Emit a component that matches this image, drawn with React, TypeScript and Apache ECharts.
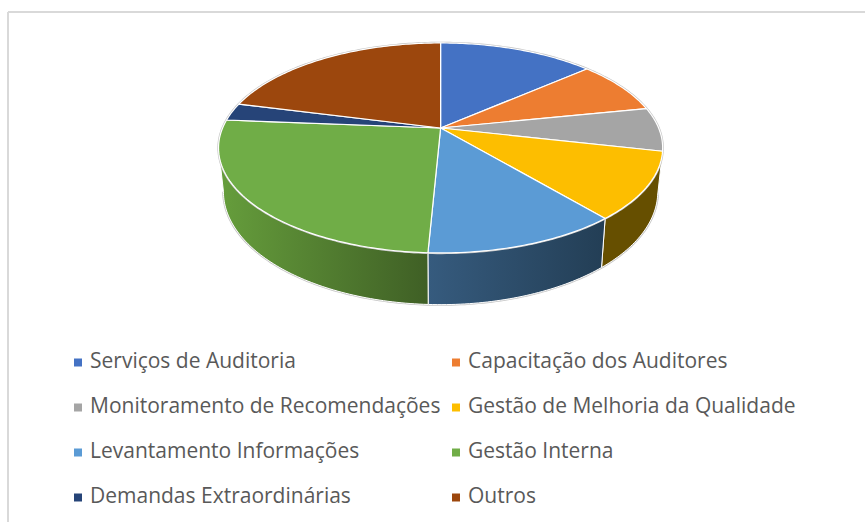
import React, { useEffect, useRef } from "react";
import * as echarts from "echarts";

const categories = [
  "Serviços de Auditoria",
  "Capacitação dos Auditores",
  "Monitoramento de Recomendações",
  "Gestão de Melhoria da Qualidade",
  "Levantamento Informações",
  "Gestão Interna",
  "Demandas Extraordinárias",
  "Outros",
];
const values = [13.6, 8.2, 6.7, 10.3, 11.9, 25.5, 2.7, 21.0];
const palette = ["#4472C4", "#ED7D31", "#A5A5A5", "#FDBE00", "#5B9BD5", "#70AD47", "#264478", "#9C470D"];
const sideLeft = ["#29447a", "#8e4b1d", "#636363", "#664F00", "#365B7E", "#669E3C", "#16294a", "#5e2b08"];
const sideRight = ["#29447a", "#8e4b1d", "#636363", "#664F00", "#233E55", "#3F5F25", "#16294a", "#5e2b08"];

const legendCols = [74, 452];
const legendRows = [349, 394, 439, 484];

const total = values.reduce((a, b) => a + b, 0);
const rad = Math.PI / 180;
const CX = 440.6, CY = 128, R = 218, RY = 101.2, K = 0.19;
const S = 0.978, SY = 1.076, Y0 = 170.2;
const VIS_START = 101, VIS_END = 259;

function topPoint(deg: number): [number, number] {
  const u = Math.sin(deg * rad), v = -Math.cos(deg * rad), w = 1 - K * v;
  return [CX + (R * u) / w, CY + (RY * v) / w];
}
function bottomPoint(deg: number): [number, number] {
  const p = topPoint(deg);
  return [CX + S * (p[0] - CX), Y0 + SY * (p[1] - CY)];
}
function arc(fn: (d: number) => [number, number], a: number, b: number) {
  const n = Math.max(2, Math.ceil(Math.abs(b - a)));
  const pts: [number, number][] = [];
  for (let i = 0; i <= n; i++) pts.push(fn(a + ((b - a) * i) / n));
  return pts;
}

function makeRender(index: number) {
  return (_params: any, api: any) => {
    const before = values.slice(0, index).reduce((a, b) => a + b, 0);
    const a0 = (before / total) * 360;
    const a1 = a0 + (api.value(0) / total) * 360;
    const children: any[] = [];
    const s0 = Math.max(a0, VIS_START), s1 = Math.min(a1, VIS_END);
    if (s1 > s0) {
      const outer = arc(bottomPoint, s0, s1);
      const pts = [...arc(topPoint, s0, s1), ...outer.slice().reverse()];
      children.push({
        type: "polyline",
        shape: { points: outer },
        style: { fill: "none", stroke: "#c4c4c4", lineWidth: 2.4 },
      });
      children.push({
        type: "polygon",
        shape: { points: pts },
        style: {
          fill: {
            type: "linear", x: 0, y: 0, x2: 1, y2: 0,
            colorStops: [
              { offset: 0, color: sideLeft[index] },
              { offset: 1, color: sideRight[index] },
            ],
          },
          stroke: "#ffffff",
          lineWidth: 1,
        },
      });
    }
    const rim = arc(topPoint, a0, a1);
    children.push({
      type: "polyline",
      shape: { points: rim },
      style: { fill: "none", stroke: "#c4c4c4", lineWidth: 2.4 },
    });
    children.push({
      type: "polygon",
      shape: { points: [[CX, CY], ...rim] },
      style: { fill: palette[index], stroke: "#ffffff", lineWidth: 1.2, lineJoin: "round" },
    });
    return { type: "group", children };
  };
}

export default function App() {
  const ref = useRef<HTMLDivElement>(null);
  useEffect(() => {
    const chart = echarts.init(ref.current!, undefined, { renderer: "svg" });
    chart.setOption({
      animation: false,
      color: palette,
      backgroundColor: "#ffffff",
      graphic: [
        { type: "line", shape: { x1: 8, y1: 12, x2: 865, y2: 12 }, style: { stroke: "#d9d9d9", lineWidth: 2 } },
        { type: "line", shape: { x1: 8, y1: 12, x2: 8, y2: 522 }, style: { stroke: "#d9d9d9", lineWidth: 2 } },
      ],
      legend: categories.map((name, i) => ({
        data: [name],
        left: legendCols[i % 2],
        top: legendRows[Math.floor(i / 2)],
        padding: 0,
        icon: "path://M0 0 M0 6 L8 6 L8 14 L0 14 Z",
        itemWidth: 8,
        itemHeight: 14,
        selectedMode: false,
        textStyle: {
          fontFamily: "Open Sans",
          fontSize: 21,
          color: "#595959",
          padding: [0, 0, 0, 3],
        },
      })),
      series: categories.map((name, i) => ({
        type: "custom",
        name,
        coordinateSystem: "none",
        silent: true,
        data: [[values[i]]],
        renderItem: makeRender(i),
      })),
    });
    return () => chart.dispose();
  }, []);
  return (
    <div
      ref={ref}
      style={{ position: "fixed", left: 0, top: 0, width: 865, height: 522 }}
    />
  );
}
